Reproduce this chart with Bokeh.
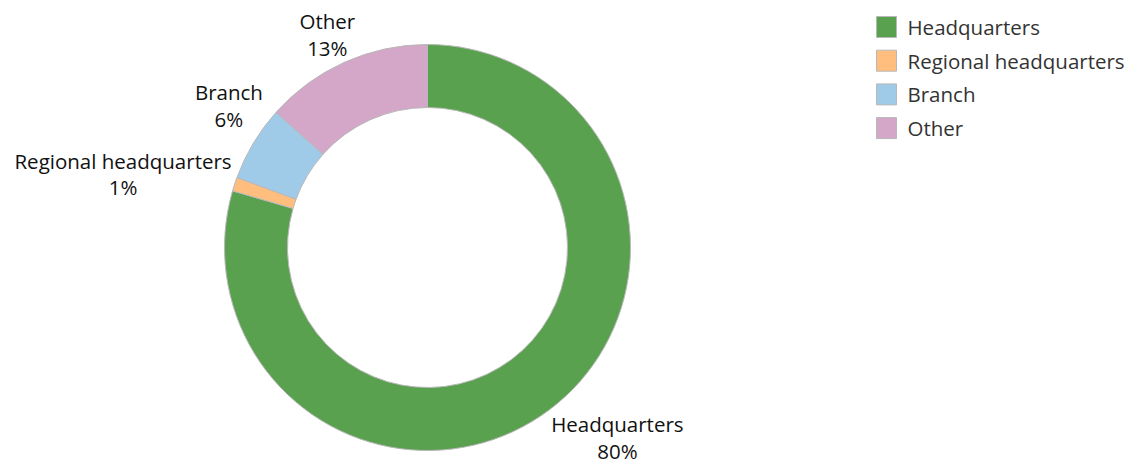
import math
from bokeh.plotting import figure
from bokeh.models import Range1d
from bokeh.core.properties import value
from bokeh.embed import file_html
from bokeh.resources import INLINE

# ---- data ----
categories = ["Headquarters", "Regional headquarters", "Branch", "Other"]
shares = [79.5, 1.1, 6.0, 13.4]
pct_labels = ["80%", "1%", "6%", "13%"]
colors = ["#59A14F", "#FFBE7D", "#A0CBE8", "#D4A6C8"]

# ---- layout ----
W, H = 1134, 465
CX, CY = 427, -247
R_IN, R_OUT = 140, 203
FONT = "Open Sans"
FS = "20.5px"
TEXT_DY = 9  # renderer baseline correction (px, upwards)
# (dx, dy) from the outer mid-point of each slice to label centre / first baseline (dy downwards)
label_offsets = [(68, 23.4), (-111.6, -14.3), (-24.5, -41.7), (-17.2, -32.1)]
LINE_GAP = 26.5
LEG_X, LEG_Y0, LEG_STEP = 886, 26.5, 33.7

p = figure(width=W, height=H, x_range=Range1d(0, W), y_range=Range1d(-H, 0),
           output_backend="svg", toolbar_location=None, min_border=0,
           x_axis_type=None, y_axis_type=None)
p.outline_line_color = None
p.background_fill_color = "white"

total = float(sum(shares))
start = math.pi / 2
starts, ends, mids = [], [], []
for s in shares:
    end = start - s / total * 2 * math.pi
    starts.append(start)
    ends.append(end)
    mids.append((start + end) / 2)
    start = end

p.annular_wedge(x=[CX] * len(shares), y=[CY] * len(shares), inner_radius=R_IN, outer_radius=R_OUT,
                start_angle=starts, end_angle=ends, direction="clock",
                fill_color=colors, line_color="#b8b8b8", line_width=1)

# slice labels
name_x, name_y, pct_x, pct_y = [], [], [], []
for m, (dx, dy) in zip(mids, label_offsets):
    px = CX + R_OUT * math.cos(m)
    py = CY + R_OUT * math.sin(m)
    name_x.append(px + dx)
    name_y.append(py - dy + TEXT_DY)
    pct_x.append(px + dx)
    pct_y.append(py - dy - LINE_GAP + TEXT_DY)

p.text(x=name_x, y=name_y, text=categories, text_align="center", text_baseline="alphabetic",
       text_font=value(FONT), text_font_size=FS, text_color="#111111")
p.text(x=pct_x, y=pct_y, text=pct_labels, text_align="center", text_baseline="alphabetic",
       text_font=value(FONT), text_font_size=FS, text_color="#111111")

# legend
leg_y = [-(LEG_Y0 + i * LEG_STEP) for i in range(len(categories))]
p.rect(x=[LEG_X] * len(categories), y=leg_y, width=20, height=21,
       width_units="screen", height_units="screen",
       fill_color=colors, line_color="#b8b8b8", line_width=1)
p.text(x=[LEG_X + 21] * len(categories), y=[y - 9 + TEXT_DY for y in leg_y], text=categories,
       text_align="left", text_baseline="alphabetic",
       text_font=value(FONT), text_font_size=FS, text_color="#333333")

open("out.html", "w").write(file_html(p, INLINE))
